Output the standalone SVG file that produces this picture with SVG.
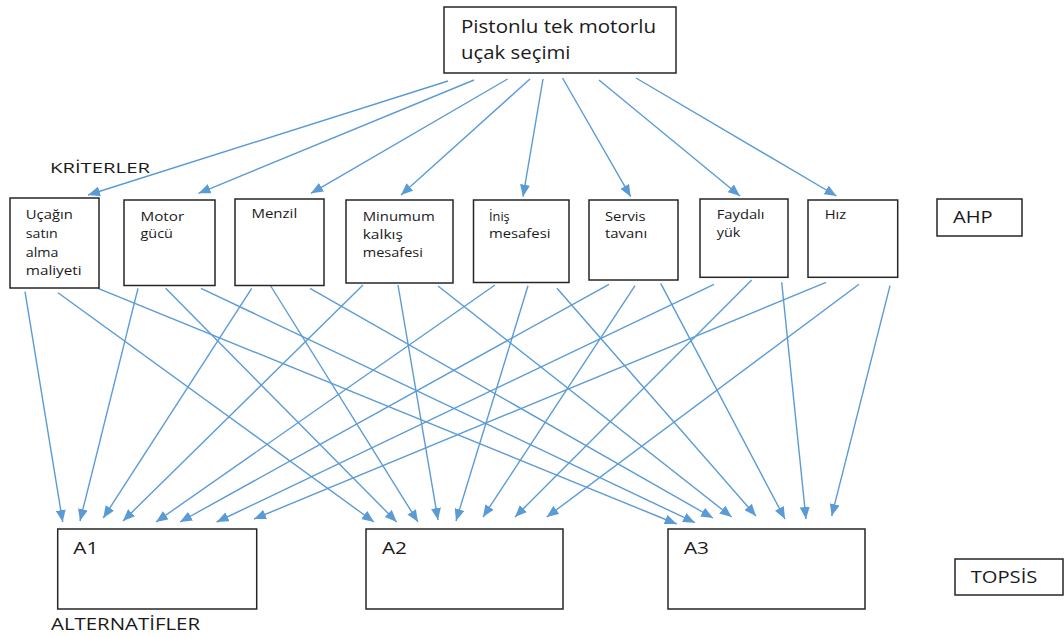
<svg xmlns="http://www.w3.org/2000/svg" width="1064" height="637" viewBox="0 0 1064 637">
<style>
.box{fill:#fff;stroke:#262626;stroke-width:1.5}
.t{font-family:"Open Sans","Liberation Sans",sans-serif;fill:#1a1a1a;font-size:12.5px}
.c line{stroke:#5B9BD5;stroke-width:1.4;marker-end:url(#ah)}
</style>
<defs>
<marker id="ah" markerUnits="userSpaceOnUse" markerWidth="12" markerHeight="10" viewBox="0 0 12 10" refX="12" refY="5" orient="auto">
<path d="M0,0 L12,5 L0,10 z" fill="#5B9BD5"/>
</marker>
</defs>
<rect width="1064" height="637" fill="#fff"/>
<g class="c" id="connectors">
<line x1="448" y1="81" x2="88" y2="195"/>
<line x1="474" y1="80" x2="198.6" y2="193.3"/>
<line x1="507.6" y1="79" x2="311" y2="193.3"/>
<line x1="530" y1="79" x2="401" y2="195"/>
<line x1="543" y1="79" x2="523" y2="196.7"/>
<line x1="562.5" y1="78" x2="630.7" y2="196.7"/>
<line x1="599" y1="80" x2="740" y2="196"/>
<line x1="636" y1="78" x2="836.5" y2="196"/>
<line x1="25" y1="291.7" x2="62.7" y2="522"/>
<line x1="58" y1="292.7" x2="374" y2="522"/>
<line x1="98" y1="288.3" x2="676.7" y2="524"/>
<line x1="138" y1="288.3" x2="80" y2="521"/>
<line x1="165.7" y1="288.3" x2="396.7" y2="522"/>
<line x1="201" y1="288.3" x2="695" y2="522.7"/>
<line x1="251.7" y1="288.3" x2="103.3" y2="518"/>
<line x1="270.7" y1="286" x2="418" y2="522"/>
<line x1="310" y1="288.3" x2="713" y2="518"/>
<line x1="363" y1="285" x2="123" y2="521"/>
<line x1="398" y1="285" x2="438" y2="520"/>
<line x1="438" y1="286" x2="731.7" y2="517"/>
<line x1="495" y1="285" x2="156" y2="522"/>
<line x1="528" y1="285.7" x2="456" y2="521"/>
<line x1="557" y1="288.3" x2="756" y2="516"/>
<line x1="609" y1="284.3" x2="180" y2="522"/>
<line x1="635" y1="285.7" x2="483" y2="517"/>
<line x1="660.7" y1="283.3" x2="785" y2="519"/>
<line x1="714" y1="284.3" x2="216.7" y2="522"/>
<line x1="751.7" y1="280" x2="515" y2="517"/>
<line x1="781.7" y1="282.3" x2="806" y2="519"/>
<line x1="826" y1="282.3" x2="254" y2="519"/>
<line x1="859" y1="284.3" x2="546.7" y2="517"/>
<line x1="890" y1="285.7" x2="831.7" y2="516"/>
</g>
<g id="goal">
<rect class="box" x="444" y="7" width="232" height="66"/>
<text class="t" style="font-size:17.5px" x="461" y="33" textLength="195" lengthAdjust="spacingAndGlyphs">Pistonlu tek motorlu</text>
<text class="t" style="font-size:17.5px" x="461" y="59" textLength="109.5" lengthAdjust="spacingAndGlyphs">uçak seçimi</text>
</g>
<g id="label-kriterler">
<text class="t" style="font-size:15px" x="50" y="173.3" textLength="100" lengthAdjust="spacingAndGlyphs">KRİTERLER</text>
</g>
<g id="c1">
<rect class="box" x="10" y="198" width="89" height="90"/>
<text class="t" x="25.8" y="219" textLength="47" lengthAdjust="spacingAndGlyphs">Uçağın</text>
<text class="t" x="25.8" y="237.5" textLength="32" lengthAdjust="spacingAndGlyphs">satın</text>
<text class="t" x="25.8" y="257" textLength="32.7" lengthAdjust="spacingAndGlyphs">alma</text>
<text class="t" x="25.8" y="275" textLength="55.8" lengthAdjust="spacingAndGlyphs">maliyeti</text>
</g>
<g id="c2">
<rect class="box" x="124" y="200" width="91" height="85.5"/>
<text class="t" x="140.5" y="220.5" textLength="43.7" lengthAdjust="spacingAndGlyphs">Motor</text>
<text class="t" x="140.5" y="238" textLength="32.4" lengthAdjust="spacingAndGlyphs">gücü</text>
</g>
<g id="c3">
<rect class="box" x="235" y="199" width="89" height="86.5"/>
<text class="t" x="251.4" y="217.7" textLength="45.8" lengthAdjust="spacingAndGlyphs">Menzil</text>
</g>
<g id="c4">
<rect class="box" x="346" y="200" width="107" height="83"/>
<text class="t" x="362.7" y="220.5" textLength="72" lengthAdjust="spacingAndGlyphs">Minumum</text>
<text class="t" x="362.7" y="238.5" textLength="40.3" lengthAdjust="spacingAndGlyphs">kalkış</text>
<text class="t" x="362.7" y="256.5" textLength="60.3" lengthAdjust="spacingAndGlyphs">mesafesi</text>
</g>
<g id="c5">
<rect class="box" x="473.5" y="200" width="95.5" height="82.5"/>
<text class="t" x="489" y="220.5" textLength="20.7" lengthAdjust="spacingAndGlyphs">İniş</text>
<text class="t" x="489" y="238" textLength="61.5" lengthAdjust="spacingAndGlyphs">mesafesi</text>
</g>
<g id="c6">
<rect class="box" x="589" y="200" width="89" height="80"/>
<text class="t" x="605" y="220.5" textLength="40.6" lengthAdjust="spacingAndGlyphs">Servis</text>
<text class="t" x="605" y="238" textLength="42.3" lengthAdjust="spacingAndGlyphs">tavanı</text>
</g>
<g id="c7">
<rect class="box" x="700" y="199" width="88" height="78.3"/>
<text class="t" x="716.7" y="219" textLength="47.9" lengthAdjust="spacingAndGlyphs">Faydalı</text>
<text class="t" x="716.7" y="236.5" textLength="23.6" lengthAdjust="spacingAndGlyphs">yük</text>
</g>
<g id="c8">
<rect class="box" x="808" y="200" width="89.7" height="77.3"/>
<text class="t" x="824.7" y="219" textLength="21.5" lengthAdjust="spacingAndGlyphs">Hız</text>
</g>
<g id="ahp">
<rect class="box" x="937" y="199" width="85" height="37"/>
<text class="t" style="font-size:17px" x="953" y="223.3" textLength="39.6" lengthAdjust="spacingAndGlyphs">AHP</text>
</g>
<g id="a1">
<rect class="box" x="57.7" y="529" width="199" height="80"/>
<text class="t" style="font-size:15.5px" x="73.3" y="554" textLength="25" lengthAdjust="spacingAndGlyphs">A1</text>
</g>
<g id="a2">
<rect class="box" x="366" y="529" width="197" height="80"/>
<text class="t" style="font-size:15.5px" x="382" y="554" textLength="25" lengthAdjust="spacingAndGlyphs">A2</text>
</g>
<g id="a3">
<rect class="box" x="668" y="529" width="197" height="80"/>
<text class="t" style="font-size:15.5px" x="684" y="554" textLength="25" lengthAdjust="spacingAndGlyphs">A3</text>
</g>
<g id="topsis">
<rect class="box" x="955" y="559" width="108" height="36"/>
<text class="t" style="font-size:16px" x="970.7" y="583" textLength="66.7" lengthAdjust="spacingAndGlyphs">TOPSİS</text>
</g>
<g id="label-alternatifler">
<text class="t" style="font-size:16px" x="51" y="630" textLength="149" lengthAdjust="spacingAndGlyphs">ALTERNATİFLER</text>
</g>
</svg>
